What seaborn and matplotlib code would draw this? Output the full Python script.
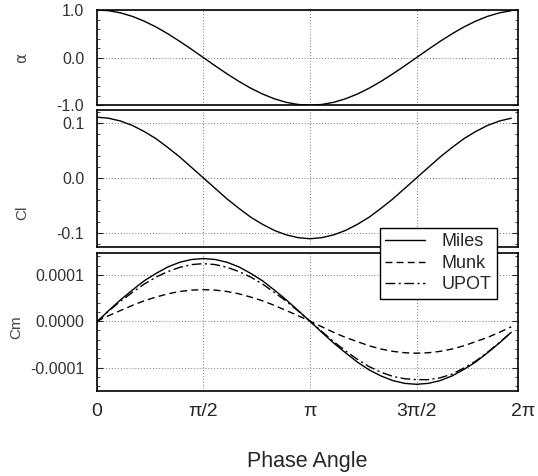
import numpy as np
import pandas as pd
import matplotlib
matplotlib.use("Agg")
import matplotlib.pyplot as plt
from matplotlib.ticker import AutoMinorLocator, FixedLocator, FuncFormatter
from matplotlib.lines import Line2D
import seaborn as sns

# phase angle samples in degrees (0..350 step 10)
phase_deg = [0, 10, 20, 30, 40, 50, 60, 70, 80, 90, 100, 110, 120, 130, 140, 150, 160, 170,
             180, 190, 200, 210, 220, 230, 240, 250, 260, 270, 280, 290, 300, 310, 320, 330, 340, 350]

alpha = [1.0, 0.985, 0.94, 0.866, 0.766, 0.643, 0.5, 0.342, 0.174, 0.0, -0.174, -0.342,
         -0.5, -0.643, -0.766, -0.866, -0.94, -0.985, -1.0, -0.985, -0.94, -0.866, -0.766, -0.643,
         -0.5, -0.342, -0.174, 0.0, 0.174, 0.342, 0.5, 0.643, 0.766, 0.866, 0.94, 0.985]

cl = [0.110, 0.108, 0.103, 0.095, 0.084, 0.071, 0.055, 0.038, 0.019, 0.000, -0.019, -0.038,
      -0.055, -0.071, -0.084, -0.095, -0.103, -0.108, -0.110, -0.108, -0.103, -0.095, -0.084, -0.071,
      -0.055, -0.038, -0.019, 0.000, 0.019, 0.038, 0.055, 0.071, 0.084, 0.095, 0.103, 0.108]

# Cm in units of 1e-4
cm_miles = [-0.02, 0.23, 0.46, 0.67, 0.87, 1.03, 1.17, 1.27, 1.33, 1.35, 1.33, 1.27,
            1.17, 1.03, 0.87, 0.67, 0.46, 0.23, 0.0, -0.24, -0.47, -0.68, -0.88, -1.05,
            -1.18, -1.28, -1.34, -1.36, -1.34, -1.28, -1.18, -1.04, -0.88, -0.68, -0.47, -0.24]
cm_munk = [0.0, 0.12, 0.23, 0.34, 0.44, 0.52, 0.59, 0.64, 0.67, 0.68, 0.67, 0.64,
           0.59, 0.52, 0.44, 0.34, 0.23, 0.12, 0.0, -0.12, -0.24, -0.35, -0.44, -0.53,
           -0.60, -0.65, -0.68, -0.69, -0.68, -0.65, -0.60, -0.53, -0.44, -0.35, -0.24, -0.12]
cm_upot = [-0.02, 0.22, 0.43, 0.62, 0.80, 0.95, 1.07, 1.16, 1.22, 1.24, 1.22, 1.16,
           1.07, 0.95, 0.80, 0.62, 0.43, 0.22, 0.0, -0.22, -0.44, -0.64, -0.82, -0.98,
           -1.10, -1.19, -1.24, -1.26, -1.26, -1.22, -1.14, -1.01, -0.86, -0.67, -0.46, -0.24]

xtick_labels = ["0", "\u03c0/2", "\u03c0", "3\u03c0/2", "2\u03c0"]
series_names = ["Miles", "Munk", "UPOT"]

sns.set_style("white")
plt.rcParams["font.family"] = ["Liberation Sans", "DejaVu Sans"]
plt.rcParams["axes.unicode_minus"] = False

phase = np.deg2rad(phase_deg)
df = pd.DataFrame({"phase": phase, "alpha": alpha, "cl": cl,
                   "Miles": cm_miles, "Munk": cm_munk, "UPOT": cm_upot})

fig = plt.figure(figsize=(5.38, 4.76), dpi=100)
L, W = 0.180, 0.783
ax1 = fig.add_axes([L, 0.779, W, 0.200])
ax2 = fig.add_axes([L, 0.481, W, 0.288])
ax3 = fig.add_axes([L, 0.179, W, 0.290])

XMAX = 6.21
xt = [0, np.pi / 2, np.pi, 3 * np.pi / 2]

styles = {"Miles": "-", "Munk": (0, (5, 3)), "UPOT": (0, (7, 2.5, 1.5, 2.5))}

sns.lineplot(data=df, x="phase", y="alpha", ax=ax1, color="black", lw=1.0)
sns.lineplot(data=df, x="phase", y="cl", ax=ax2, color="black", lw=1.0)
for name in series_names:
    sns.lineplot(data=df, x="phase", y=name, ax=ax3, color="black", lw=1.0,
                 linestyle=styles[name])

ax1.set_ylim(-1.0, 1.0)
ax1.yaxis.set_major_locator(FixedLocator([-1.0, 0.0, 1.0]))
ax1.yaxis.set_major_formatter(FuncFormatter(lambda v, p: f"{v:.1f}"))
ax1.yaxis.set_minor_locator(AutoMinorLocator(5))
ax1.set_ylabel("\u03b1", fontsize=11, color="#444444", family="DejaVu Sans")
ax1.yaxis.set_label_coords(-0.16, 0.5)

ax2.set_ylim(-0.125, 0.123)
ax2.yaxis.set_major_locator(FixedLocator([-0.1, 0.0, 0.1]))
ax2.yaxis.set_major_formatter(FuncFormatter(lambda v, p: f"{v:.1f}"))
ax2.yaxis.set_minor_locator(AutoMinorLocator(5))
ax2.set_ylabel("Cl", fontsize=11, color="#444444")
ax2.yaxis.set_label_coords(-0.16, 0.25)

ax3.set_ylim(-1.50, 1.475)
ax3.yaxis.set_major_locator(FixedLocator([-1.0, 0.0, 1.0]))
ax3.yaxis.set_major_formatter(FuncFormatter(lambda v, p: f"{v * 1e-4:.4f}"))
ax3.yaxis.set_minor_locator(AutoMinorLocator(5))
ax3.set_ylabel("Cm", fontsize=11, color="#444444")
ax3.yaxis.set_label_coords(-0.174, 0.46)

for ax in (ax1, ax2, ax3):
    ax.set_xlim(0, XMAX)
    ax.set_xticks(xt)
    ax.grid(True, which="major", color="#777777", linestyle=(0, (1, 2)), lw=0.7)
    ax.tick_params(axis="y", which="both", direction="in", left=True, right=True,
                   labelsize=11.5, pad=9, labelcolor="#333333")
    ax.tick_params(axis="y", which="major", length=4)
    ax.tick_params(axis="y", which="minor", length=2.5)
    ax.tick_params(axis="x", which="both", direction="in", bottom=False, length=0)
    for s in ax.spines.values():
        s.set_color("black")
        s.set_linewidth(1.2)
    ax.set_xlabel("")

ax1.set_xticklabels([])
ax2.set_xticklabels([])
ax3.set_xticklabels(xtick_labels[:4], fontsize=14)
ax3.tick_params(axis="x", pad=9)
ax3.annotate(xtick_labels[4], xy=(2 * np.pi, 0), xycoords=("data", "axes fraction"),
             xytext=(0, -9), textcoords="offset points",
             ha="center", va="top", fontsize=14, annotation_clip=False)
ax3.set_xlabel("Phase Angle", fontsize=15.5, labelpad=22)

if ax3.get_legend() is not None:
    ax3.get_legend().remove()
handles = [Line2D([], [], color="black", lw=1.0, linestyle=styles[n]) for n in series_names]
leg = fig.legend(handles, series_names, loc="upper left", bbox_to_anchor=(0.706, 0.521),
                 fontsize=13, frameon=True, fancybox=False, framealpha=1,
                 edgecolor="black", handlelength=2.2, borderpad=0.3, labelspacing=0.25,
                 handletextpad=0.9, borderaxespad=0)
leg.get_frame().set_linewidth(1.0)

fig.savefig("out.png", dpi=100)
